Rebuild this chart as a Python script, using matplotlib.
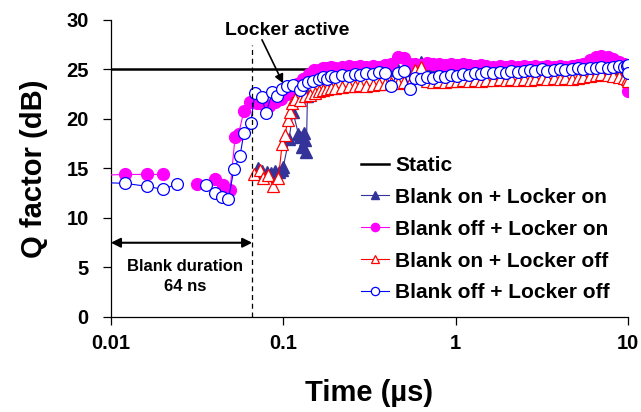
import numpy as np
import matplotlib
matplotlib.use("Agg")
import matplotlib.pyplot as plt
from matplotlib.ticker import FixedLocator, NullLocator

plt.rcParams['font.family'] = ['Liberation Sans', 'DejaVu Sans']
plt.rcParams['font.weight'] = 'bold'

nan = np.nan

# Static reference level
t_static = [0.01, 10.0]
q_static = [25.0, 25.0]

# shared time grid for the long (dense) part, us
t_dense = [0.16, 0.17, 0.18, 0.19, 0.20, 0.22, 0.24, 0.26, 0.28, 0.30,
           0.33, 0.36, 0.39, 0.42, 0.46, 0.50, 0.54, 0.58, 0.63, 0.68,
           0.74, 0.80, 0.87, 0.94, 1.02, 1.10, 1.20, 1.30, 1.40, 1.50,
           1.65, 1.80, 1.95, 2.10, 2.30, 2.50, 2.70, 2.90, 3.15, 3.40,
           3.70, 4.00, 4.30, 4.70, 5.10, 5.50, 6.00, 6.50, 7.00, 7.60,
           8.20, 8.80, 9.40, 9.80]

# Blank on + Locker on
t_navy_early = [0.0716, 0.0750, 0.0800, 0.0850, 0.0900, 0.0950, 0.0980, 0.1000,
                0.1080, 0.1138, 0.1222, 0.1250, 0.1280, 0.1318, 0.1340, 0.1360,
                0.1380, 0.1460, 0.1520]
q_navy_early = [15.0, 14.7, 14.6, 14.5, 14.7, 14.6, 14.8, 15.2,
                18.0, 20.7, 18.5, 18.2, 17.2, 18.6, 17.9, 16.7,
                22.3, 24.3, 24.6]
q_navy_dense = [24.8, 24.6, 24.9, 24.7, 24.8, 24.9, 24.7, 24.9, 24.8, 24.9,
                24.8, 25.0, 24.9, 25.0, 24.9, 25.0, 24.9, 25.2, 25.8, 25.0,
                24.9, 25.0, 24.9, 25.0, 24.9, 25.0, 24.9, 25.0, 25.1, 25.0,
                25.0, 25.1, 25.0, 25.1, 25.0, 25.1, 25.0, 25.1, 25.1, 25.0,
                25.1, 25.2, 25.1, 25.2, 25.1, 25.2, 25.2, 25.3, 25.2, 25.3,
                25.2, 25.3, 25.2, 25.2]
t_navy_end = [10.0]
q_navy_end = [25.0]

# Blank off + Locker on
t_mag_early = [0.008, 0.0121, 0.0161, 0.0200, 0.026, 0.0317, 0.0400, 0.0449,
               0.0491, 0.0525, 0.0550, 0.0591, 0.0641, 0.0700, 0.0760, 0.0830,
               0.0900, 0.0970, 0.1050, 0.1120, 0.1200, 0.1300, 0.1400, 0.1500]
q_mag_early = [14.3, 14.4, 14.4, 14.4, nan, 13.4, 13.9, 13.3,
               12.8, 18.2, 18.5, 20.8, 21.7, 21.6, 21.5, 21.3,
               21.7, 22.0, 22.5, 22.9, 23.5, 24.0, 24.5, 24.9]
q_mag_dense = [24.9, 25.1, 25.2, 25.3, 25.2, 25.3, 25.4, 25.3, 25.4, 25.3,
               25.4, 25.3, 25.5, 25.6, 26.3, 26.2, 25.6, 25.6, 25.5, 25.7,
               25.6, 25.6, 25.5, 25.6, 25.5, 25.6, 25.5, 25.4, 25.5, 25.4,
               25.3, 25.4, 25.3, 25.4, 25.3, 25.4, 25.3, 25.4, 25.3, 25.4,
               25.3, 25.4, 25.3, 25.4, 25.5, 25.6, 26.0, 26.3, 26.4, 26.3,
               26.1, 25.8, 25.6, 25.4]
t_mag_end = [10.0, 10.0]
q_mag_end = [24.8, 22.8]

# Blank on + Locker off
t_red_early = [0.0676, 0.0735, 0.0763, 0.0818, 0.0875, 0.0936, 0.0985, 0.1023,
               0.1061, 0.1100, 0.1130, 0.1165, 0.1250, 0.1330, 0.1420, 0.1520]
q_red_early = [14.4, 14.8, 14.0, 14.3, 13.2, 14.0, 17.5, 18.4,
               19.9, 20.7, 21.6, 22.0, 21.9, 22.3, 22.4, 22.6]
q_red_dense = [22.8, 22.9, 23.0, 23.1, 23.1, 23.2, 23.3, 23.3, 23.4, 23.3,
               23.4, 23.5, 23.5, 23.6, 23.6, 23.7, 23.6, 24.9, 25.3, 23.8,
               23.7, 23.8, 23.7, 23.8, 23.8, 23.9, 23.8, 23.9, 23.8, 23.9,
               23.9, 24.0, 23.9, 24.0, 23.9, 24.0, 23.9, 24.0, 24.1, 24.0,
               24.1, 24.0, 24.1, 24.0, 24.1, 24.2, 24.3, 24.4, 24.5, 24.4,
               24.3, 24.2, 24.1, 24.0]
t_red_end = [10.0]
q_red_end = [23.8]

# Blank off + Locker off
t_blue_early = [0.008, 0.0121, 0.0161, 0.0200, 0.0241, 0.030, 0.0356, 0.0402,
                0.0439, 0.0480, 0.0517, 0.0561, 0.0591, 0.0647, 0.0685, 0.0750,
                0.0794, 0.0863, 0.0916, 0.0980, 0.1047, 0.1138, 0.1250, 0.1300,
                0.1390, 0.1490]
q_blue_early = [13.6, 13.5, 13.2, 12.9, 13.4, nan, 13.3, 12.5,
                12.1, 11.9, 14.9, 16.3, 18.6, 19.6, 22.6, 22.2,
                20.6, 22.7, 22.3, 23.0, 23.3, 23.4, 22.9, 23.4,
                23.7, 23.8]
q_blue_dense = [24.0, 24.2, 24.0, 24.3, 24.2, 24.4, 24.3, 24.5, 24.4, 24.6,
                24.5, 24.7, 24.6, 23.3, 24.6, 24.8, 23.0, 24.1, 24.0, 24.2,
                24.1, 24.3, 24.2, 24.4, 24.3, 24.5, 24.4, 24.6, 24.5, 24.7,
                24.6, 24.7, 24.6, 24.8, 24.7, 24.8, 24.9, 24.8, 25.0, 24.8,
                24.9, 25.0, 24.9, 25.0, 25.1, 25.0, 25.2, 25.1, 25.3, 25.2,
                25.3, 25.4, 25.3, 25.4]
t_blue_end = [10.0, 10.0]
q_blue_end = [25.5, 24.6]

blank_end = 0.066  # end of blanking window, us


def series(t_early, q_early, q_dense, t_end, q_end):
    t = list(t_early) + list(t_dense) + list(t_end)
    q = list(q_early) + list(q_dense) + list(q_end)
    return t, q


fig = plt.figure(figsize=(6.41, 4.12), dpi=100)
ax = fig.add_axes([0.173, 0.2306, 0.807, 0.7209])

ax.plot(t_static, q_static, color='black', lw=1.8, label='Static', zorder=1)

t, q = series(t_navy_early, q_navy_early, q_navy_dense, t_navy_end, q_navy_end)
ax.plot(t, q, color='#333399', lw=0.8, marker='^', ms=8, mfc='#333399',
        mec='#333399', label='Blank on + Locker on', zorder=2)

t, q = series(t_mag_early, q_mag_early, q_mag_dense, t_mag_end, q_mag_end)
ax.plot(t, q, color='#FF00FF', lw=0.8, marker='o', ms=8.5, mfc='#FF00FF',
        mec='#FF00FF', label='Blank off + Locker on', zorder=3)

t, q = series(t_red_early, q_red_early, q_red_dense, t_red_end, q_red_end)
ax.plot(t, q, color='#FF0000', lw=0.8, marker='^', ms=8, mfc='white',
        mec='#FF0000', mew=0.9, label='Blank on + Locker off', zorder=4)

t, q = series(t_blue_early, q_blue_early, q_blue_dense, t_blue_end, q_blue_end)
ax.plot(t, q, color='#0000FF', lw=0.8, marker='o', ms=8.5, mfc='white',
        mec='#0000FF', mew=0.9, label='Blank off + Locker off', zorder=5)

# blank window marker
ax.vlines(blank_end, 0, 27.5, colors='black', linestyles=(0, (4, 3)), lw=0.9, zorder=6)
ax.annotate('', xy=(blank_end, 7.5), xytext=(0.01, 7.5),
            arrowprops=dict(arrowstyle='<|-|>', color='black', lw=1.5,
                            shrinkA=0, shrinkB=0, mutation_scale=14), zorder=7)
ax.text(0.027, 5.1, 'Blank duration', ha='center', va='center', fontsize=12,
        fontweight='bold')
ax.text(0.027, 3.1, '64 ns', ha='center', va='center', fontsize=12,
        fontweight='bold')

# locker annotation
ax.text(0.106, 28.95, 'Locker active', ha='center', va='center', fontsize=14,
        fontweight='bold', clip_on=False)
ax.annotate('', xy=(0.0997, 23.6), xytext=(0.0752, 28.0),
            arrowprops=dict(arrowstyle='-|>', color='black', lw=1.2,
                            shrinkA=0, shrinkB=0, mutation_scale=13), zorder=8)

ax.set_xscale('log')
ax.set_xlim(0.01, 10)
ax.set_ylim(0, 30)
ax.xaxis.set_major_locator(FixedLocator([0.01, 0.1, 1, 10]))
ax.xaxis.set_minor_locator(NullLocator())
ax.set_xticklabels(['0.01', '0.1', '1', '10'])
ax.set_yticks([0, 5, 10, 15, 20, 25, 30])

for s in ['top', 'right']:
    ax.spines[s].set_visible(False)
for s in ['left', 'bottom']:
    ax.spines[s].set_linewidth(0.9)

ax.tick_params(axis='both', direction='out', length=6, width=0.9,
               labelsize=14.5)
ax.tick_params(axis='y', pad=10)
ax.tick_params(axis='x', pad=6)
for lab in ax.get_xticklabels() + ax.get_yticklabels():
    lab.set_fontweight('bold')

ax.set_xlabel('Time (\u00b5s)', fontsize=21, fontweight='bold', labelpad=19)
ax.set_ylabel('Q factor (dB)', fontsize=21, fontweight='bold', labelpad=13)

leg = fig.legend(loc='upper left', bbox_to_anchor=(0.55, 0.642), frameon=False,
                 fontsize=15, handlelength=1.35, handletextpad=0.3,
                 labelspacing=0.62, markerscale=0.7, borderaxespad=0)
for txt in leg.get_texts():
    txt.set_fontweight('bold')

fig.savefig('out.png', dpi=100)
